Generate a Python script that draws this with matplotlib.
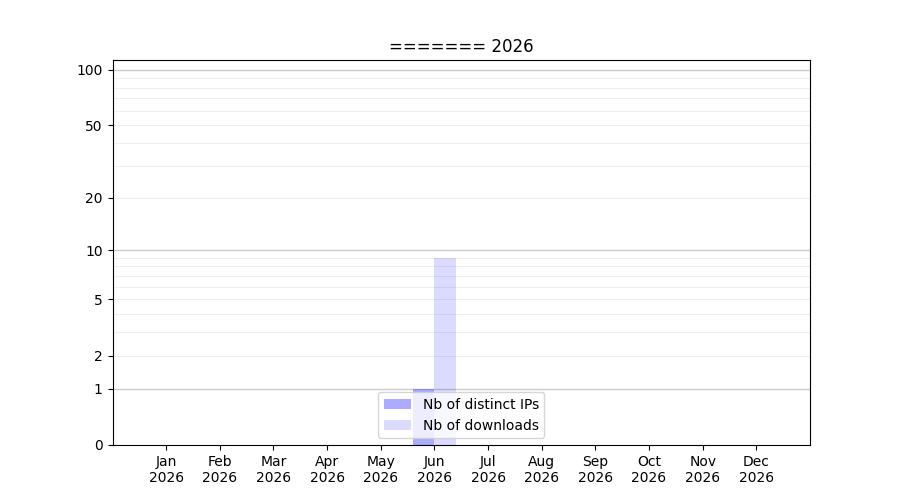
import matplotlib

matplotlib.use("Agg")
import matplotlib.pyplot as plt
import numpy as np

year = 2026
months = ["Jan", "Feb", "Mar", "Apr", "May", "Jun",
          "Jul", "Aug", "Sep", "Oct", "Nov", "Dec"]
distinct_ips = [0, 0, 0, 0, 0, 1, 0, 0, 0, 0, 0, 0]
downloads = [0, 0, 0, 0, 0, 9, 0, 0, 0, 0, 0, 0]

major_ticks = [0, 1, 2, 5, 10, 20, 50, 100]
dark_grid = [1, 10, 100]
light_grid = [2, 3, 4, 5, 6, 7, 8, 9, 20, 30, 40, 50, 60, 70, 80, 90]


def fwd(v):
    return np.log10(1 + np.clip(v, 0, None))


def inv(v):
    return 10 ** v - 1


fig, ax = plt.subplots(figsize=(9, 5), dpi=100)
ax.set_yscale("function", functions=(fwd, inv))

x = np.arange(len(months))
w = 0.4
# grille : traits plus foncés aux décades
for g in light_grid:
    ax.axhline(g, color="#eeeeee", lw=0.8, zorder=0)
for g in dark_grid:
    ax.axhline(g, color="#cccccc", lw=1.0, zorder=0)

ax.bar(x - w / 2, distinct_ips, w, color="blue", alpha=0.33,
       label="Nb of distinct IPs")
ax.bar(x + w / 2, downloads, w, color="blue", alpha=0.14,
       label="Nb of downloads")

ax.set_xticks(x)
ax.set_xticklabels([f"{m}\n{year}" for m in months])
ax.set_xlim(-1, 12)
ax.set_yticks(major_ticks)
ax.set_yticklabels([str(t) for t in major_ticks])
ax.yaxis.set_minor_locator(matplotlib.ticker.NullLocator())
ax.set_ylim(0, 113)
ax.set_title(f"======= {year}")
ax.legend(loc="lower center")

fig.savefig("out.png", dpi=100)
